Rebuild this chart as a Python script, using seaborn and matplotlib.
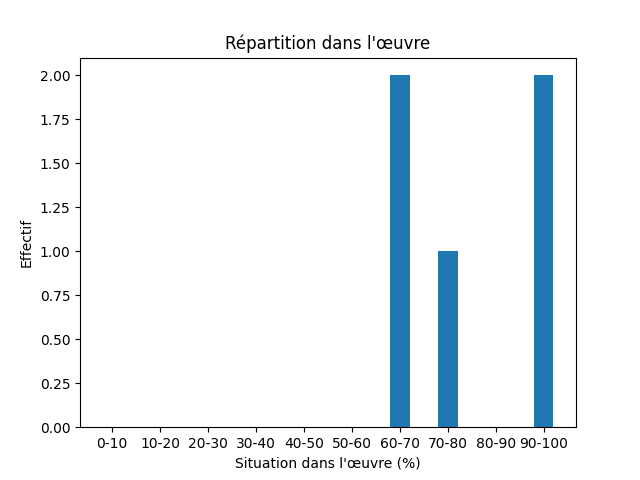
import matplotlib
matplotlib.use("Agg")
import matplotlib.pyplot as plt
import seaborn as sns
import pandas as pd

# tranches de position dans l'oeuvre
tranches = ["0-10", "10-20", "20-30", "30-40", "40-50",
            "50-60", "60-70", "70-80", "80-90", "90-100"]
effectifs = [0, 0, 0, 0, 0, 0, 2, 1, 0, 2]

df = pd.DataFrame({"tranche": tranches, "effectif": effectifs})

fig, ax = plt.subplots(figsize=(6.4, 4.8), dpi=100)
sns.barplot(data=df, x="tranche", y="effectif", color="#1f77b4",
            saturation=1, width=0.4, ax=ax)

# limites comme un plt.bar classique
n = len(tranches)
pad = 0.05 * (n - 1 + 0.4)
ax.set_xlim(-0.2 - pad, n - 1 + 0.2 + pad)

ax.set_title("Répartition dans l'œuvre")
ax.set_xlabel("Situation dans l'œuvre (%)")
ax.set_ylabel("Effectif")

fig.savefig("out.png", dpi=100)
